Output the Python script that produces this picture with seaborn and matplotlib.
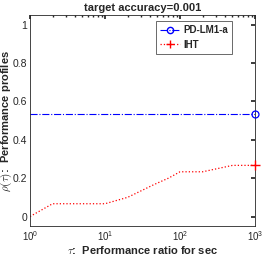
import matplotlib
matplotlib.use("Agg")
import matplotlib.pyplot as plt
from matplotlib.lines import Line2D
import seaborn as sns
import pandas as pd

sns.set_theme(style="white")
plt.rcParams['font.family'] = ['Liberation Sans', 'DejaVu Sans']
plt.rcParams['mathtext.fontset'] = 'cm'

pd_tau = [1, 1000]
pd_rho = [0.5333, 0.5333]
iht_tau = [1, 2, 10, 20, 30, 45, 70, 100, 200, 500, 1000]
iht_rho = [0.0, 0.0667, 0.0667, 0.1, 0.1333, 0.1667, 0.2, 0.2333, 0.2333, 0.2667, 0.2667]

fig = plt.figure(figsize=(2.62, 2.62), dpi=100)
ax = fig.add_axes([0.1145, 0.137, 0.859, 0.805])

df1 = pd.DataFrame({"tau": pd_tau, "rho": pd_rho})
df2 = pd.DataFrame({"tau": iht_tau, "rho": iht_rho})
sns.lineplot(data=df1, x="tau", y="rho", ax=ax, color="blue", linestyle="-.", lw=0.8)
sns.lineplot(data=df2, x="tau", y="rho", ax=ax, color="red", linestyle=":", lw=0.9)
ax.plot(pd_tau[-1:], pd_rho[-1:], marker="o", ms=5, mfc="none", mec="blue", mew=0.9,
        ls="none", clip_on=False, zorder=5)
ax.plot(iht_tau[-1:], iht_rho[-1:], marker="+", ms=7, mec="red", mew=1.0,
        ls="none", clip_on=False, zorder=5)

ax.set_xscale("log")
ax.set_xlim(1, 1000)
ax.set_ylim(-0.05, 1.05)
ax.set_yticks([0, 0.2, 0.4, 0.6, 0.8, 1])
ax.set_yticklabels(["0", "0.2", "0.4", "0.6", "0.8", "1"])
ax.tick_params(axis="both", which="both", direction="in", labelsize=7.5, colors="#262626",
               top=True, right=True, length=3, pad=2)
ax.tick_params(axis="x", labelsize=7.0)
ax.tick_params(which="minor", length=1.5)
for s in ax.spines.values():
    s.set_color("#262626")
    s.set_linewidth(0.6)

ax.set_title("target accuracy=0.001", fontsize=8, fontweight="bold", pad=3)
ax.set_xlabel(r"$\tau$:  Performance ratio for sec", fontsize=8, fontweight="bold", labelpad=1)
ax.set_ylabel(r"$\rho(\tau)$:  Performance profiles", fontsize=8, fontweight="bold",
              family=['Liberation Sans Narrow', 'Liberation Sans', 'DejaVu Sans'])
ax.yaxis.set_label_coords(-0.072, 0.5)

handles = [
    Line2D([], [], color="blue", ls="-.", lw=0.8, marker="o", ms=4.5, mfc="none", mec="blue"),
    Line2D([], [], color="red", ls=":", lw=0.9, marker="+", ms=6, mec="red"),
]
leg = ax.legend(handles, ["PD-LM1-a", "IHT"], loc="upper right", fontsize=7, frameon=True,
                fancybox=False, borderpad=0.4, handlelength=2.0, handletextpad=0.4,
                labelspacing=0.5, borderaxespad=0, numpoints=1,
                bbox_to_anchor=(0.898, 0.972))
leg.get_frame().set_edgecolor("#262626")
leg.get_frame().set_linewidth(0.6)
for t in leg.get_texts():
    t.set_fontweight("bold")

fig.savefig("out.png", dpi=100)
